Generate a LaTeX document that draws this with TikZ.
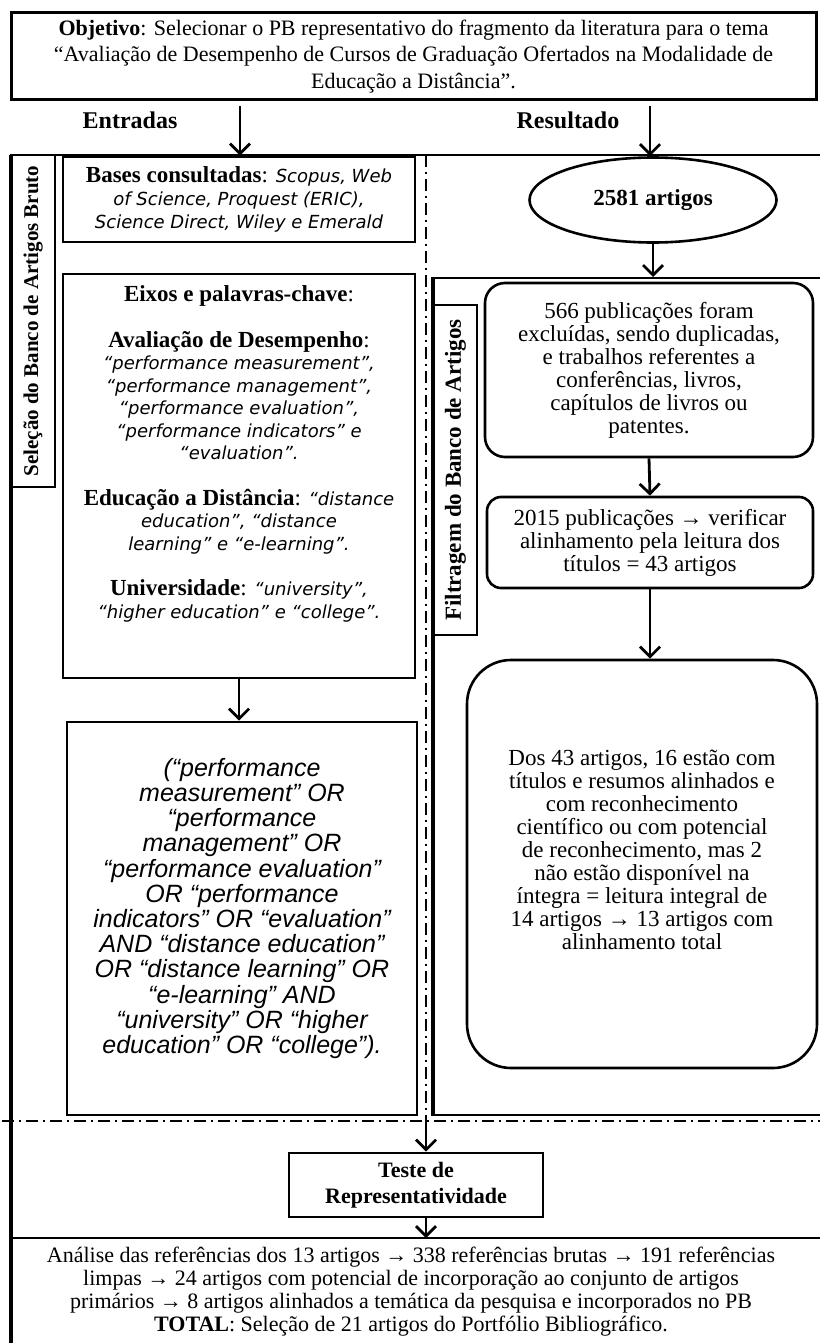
\documentclass[tikz,border=0pt]{standalone}
\usepackage{fontspec}
\setmainfont{Liberation Serif}
\newfontfamily\gothicfont{DejaVu Sans}
\newfontfamily\arialfont{Liberation Sans}
\usetikzlibrary{arrows.meta,shapes.geometric}

\tikzset{
  caixa/.style={draw, line width=1.3pt, align=center, inner sep=0pt},
  seta/.style={line width=1.4pt, -{Straight Barb[length=5pt,width=10pt]}},
  traco/.style={line width=1pt, dash pattern=on 6pt off 2.5pt on 1pt off 2.5pt},
  rotulo/.style={draw, line width=0.8pt, inner sep=0pt, rotate=90, font=\bfseries},
  texto/.style={align=center, font=\fontsize{11.5}{11.5}\selectfont}
}
\newcommand{\ital}[1]{{\gothicfont\itshape\fontsize{9}{11}\selectfont #1}}

\begin{document}
\begin{tikzpicture}[x=0.5pt,y=-0.5pt]
  \useasboundingbox (0,0) rectangle (819,1343);

  % molduras
  \draw[line width=1pt] (11,155) -- (825,155);
  \draw[line width=2pt] (11,155) -- (11,1345);
  \coordinate (divTop) at (426,155);
  \coordinate (divBot) at (426,1121);
  \coordinate (linL) at (2,1121);
  \coordinate (linR) at (825,1121);
  \coordinate (botL) at (11,1238);
  \coordinate (botR) at (825,1238);
  \draw[traco] (divTop) -- (divBot);
  \draw[traco] (linL) -- (linR);
  \draw[line width=1.2pt] (botL) -- (botR);

  \node[caixa, line width=1.5pt, minimum width=402.5pt, minimum height=43.5pt, font=\fontsize{11}{13.25}\selectfont] (objetivo) at (413.5,56.5)
    {\textbf{Objetivo}: Selecionar o PB representativo do fragmento da literatura para o tema\\
     “Avaliação de Desempenho de Cursos de Graduação Ofertados na Modalidade de\\
     Educação a Distância”.};

  \node[font=\bfseries\fontsize{12}{14}\selectfont] (entradas) at (130,120) {Entradas};
  \node[font=\bfseries\fontsize{12}{14}\selectfont] (resultado) at (568,120) {Resultado};

  % coluna da esquerda
  \node[rotulo, minimum width=166pt, minimum height=22pt, font=\bfseries\fontsize{10.5}{12}\selectfont] (selecao) at (33,321)
    {Seleção do Banco de Artigos Bruto};

  \node[caixa, texto, minimum width=176pt, minimum height=42.5pt] (bases) at (239,199.5)
    {\textbf{Bases consultadas}: \ital{Scopus, Web}\\
     \ital{of Science,  Proquest (ERIC),}\\
     \ital{Science Direct, Wiley e Emerald}};

  \node[caixa, minimum width=176pt, minimum height=202pt] (eixos) at (239,476) {};
  \node[texto, font=\fontsize{11.5}{11.25}\selectfont] (eixostxt) at (239,454)
    {\textbf{Eixos e palavras-chave}:\\[11.5pt]
     \textbf{Avaliação de Desempenho}:\\
     \ital{“performance measurement”,}\\
     \ital{“performance management”,}\\
     \ital{“performance evaluation”,}\\
     \ital{“performance indicators” e}\\
     \ital{“evaluation”.}\\[11.5pt]
     \textbf{Educação a Distância}: \ital{“distance}\\
     \ital{education”, “distance}\\
     \ital{learning” e “e-learning”.}\\[11.5pt]
     \textbf{Universidade}: \ital{“university”,}\\
     \ital{“higher education” e “college”.}};

  \node[caixa, minimum width=175pt, minimum height=196.5pt] (query) at (242,918.5) {};
  \node[align=center, font=\arialfont\itshape\fontsize{12.5}{12.6}\selectfont] (querytxt) at (242,908.5)
    {(“performance\\
     measurement” OR\\
     “performance\\
     management” OR\\
     “performance evaluation”\\
     OR “performance\\
     indicators” OR “evaluation”\\
     AND “distance education”\\
     OR “distance learning” OR\\
     “e-learning”  AND\\
     “university” OR “higher\\
     education” OR “college”).};

  % coluna da direita
  \node[ellipse, draw, line width=1.3pt, minimum width=123.5pt, minimum height=42.5pt, inner sep=0pt, font=\bfseries\fontsize{11.5}{13}\selectfont] (n2581) at (653,200)
    {2581 artigos};

  \node[draw, line width=1pt, minimum width=195.5pt, minimum height=418.5pt, inner sep=0pt] (filtro) at (629.5,696.5) {};
  \draw[line width=2pt] (filtro.north west) -- (filtro.south west);
  \node[rotulo, minimum width=165pt, minimum height=21.5pt, font=\bfseries\fontsize{11.5}{13}\selectfont] (filtragem) at (455.5,470)
    {Filtragem do Banco de Artigos};

  \node[caixa, texto, rounded corners=10pt, minimum width=164pt, minimum height=87pt] (p566) at (649,370)
    {566 publicações foram\\
     excluídas, sendo duplicadas,\\
     e trabalhos referentes a\\
     conferências, livros,\\
     capítulos de livros ou\\
     patentes.};

  \node[caixa, texto, rounded corners=7pt, minimum width=163pt, minimum height=45.5pt] (p2015) at (650,542.5)
    {2015 publicações → verificar\\
     alinhamento pela leitura dos\\
     títulos = 43 artigos};

  \node[caixa, rounded corners=22pt, minimum width=175pt, minimum height=204pt] (dos43) at (642,864) {};
  \node[texto] (dos43txt) at (642,850)
    {Dos 43 artigos, 16 estão com\\
     títulos e resumos alinhados e\\
     com reconhecimento\\
     científico ou com potencial\\
     de reconhecimento,  mas 2\\
     não estão disponível na\\
     íntegra = leitura integral de\\
     14 artigos → 13 artigos com\\
     alinhamento total};

  % parte de baixo
  \node[caixa, minimum width=127pt, minimum height=32pt, font=\bfseries\fontsize{11}{13}\selectfont] (teste) at (416,1185)
    {Teste de\\Representatividade};

  \node[align=center, font=\fontsize{11}{11.5}\selectfont] (analise) at (411,1292)
    {Análise das referências dos 13 artigos → 338 referências brutas → 191 referências\\
     limpas → 24 artigos com potencial de incorporação ao conjunto de artigos\\
     primários → 8 artigos alinhados a temática  da pesquisa e incorporados no PB\\
     \textbf{TOTAL}: Seleção de 21 artigos do Portfólio Bibliográfico.};

  % setas
  \coordinate (entA) at (240,106);
  \coordinate (resA) at (650,106);
  \draw[seta] (entA) -- (entA |- bases.north);
  \draw[seta] (resA) -- (resA |- n2581.north);
  \draw[seta] (eixos.south) -- (eixos.south |- query.north);
  \draw[seta] (n2581.south) -- (n2581.south |- filtro.north);
  \draw[seta] (p566.south) -- (p2015.north);
  \draw[seta] (p2015.south) -- (p2015.south |- dos43.north);
  \draw[seta] (divBot) -- (divBot |- teste.north);
  \draw[seta] (teste.south -| divBot) -- (divBot |- botL);
\end{tikzpicture}
\end{document}
